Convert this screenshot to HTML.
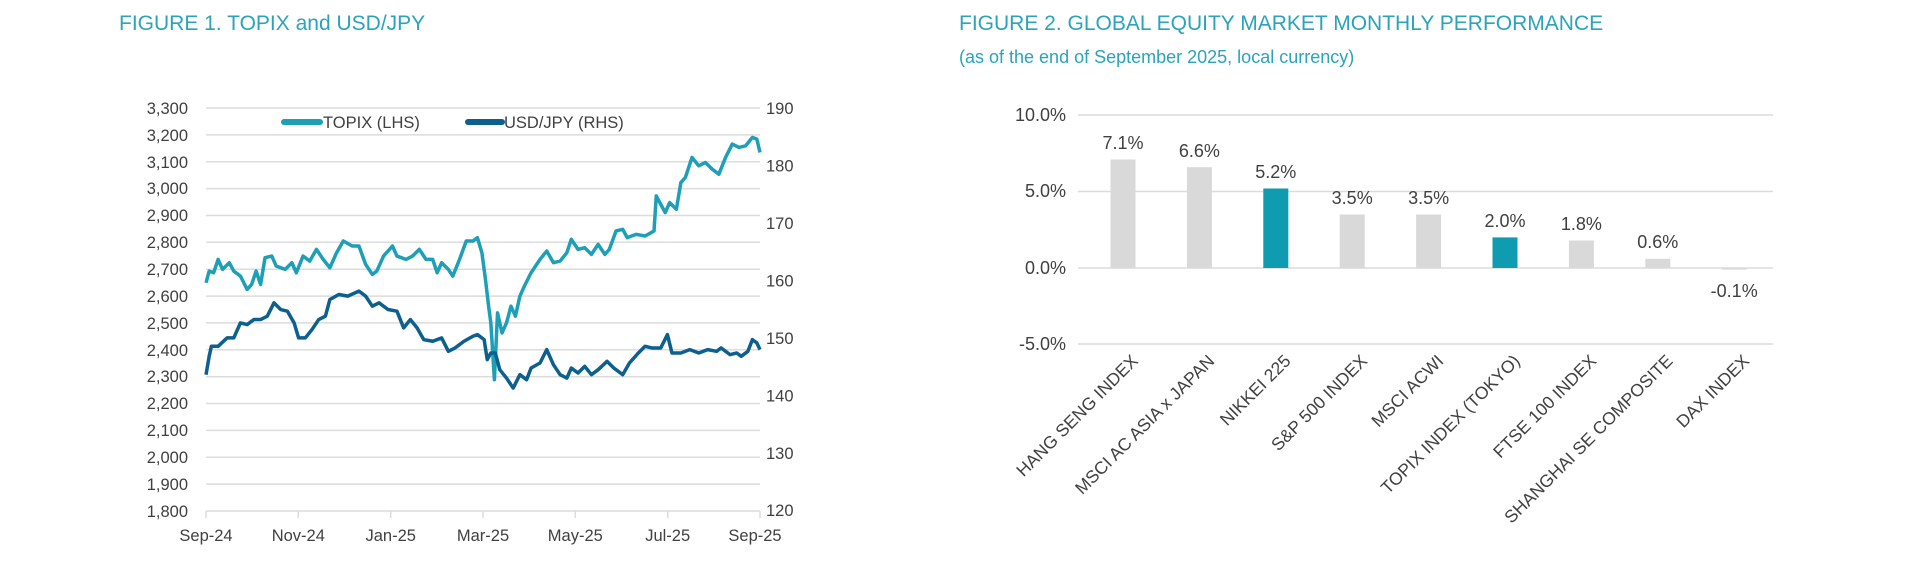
<!DOCTYPE html>
<html><head><meta charset="utf-8"><style>
body{margin:0;background:#fff;}
svg{display:block;font-family:"Liberation Sans",sans-serif;}
</style></head><body>
<svg width="1920" height="583" viewBox="0 0 1920 583" xmlns="http://www.w3.org/2000/svg">
<rect width="1920" height="583" fill="#fff"/>
<text x="119" y="30" font-size="21" fill="#2aa3bb">FIGURE 1. TOPIX and USD/JPY</text>
<text x="959" y="30" font-size="21" fill="#2aa3bb">FIGURE 2. GLOBAL EQUITY MARKET MONTHLY PERFORMANCE</text>
<text x="959" y="63" font-size="18" fill="#2aa3bb">(as of the end of September 2025, local currency)</text>

<g stroke="#dcdcdc" stroke-width="1.5">
<line x1="206" x2="760" y1="108" y2="108"/><line x1="206" x2="760" y1="134.9" y2="134.9"/><line x1="206" x2="760" y1="161.7" y2="161.7"/><line x1="206" x2="760" y1="188.6" y2="188.6"/><line x1="206" x2="760" y1="215.5" y2="215.5"/><line x1="206" x2="760" y1="242.3" y2="242.3"/><line x1="206" x2="760" y1="269.2" y2="269.2"/><line x1="206" x2="760" y1="296.1" y2="296.1"/><line x1="206" x2="760" y1="322.9" y2="322.9"/><line x1="206" x2="760" y1="349.8" y2="349.8"/><line x1="206" x2="760" y1="376.7" y2="376.7"/><line x1="206" x2="760" y1="403.5" y2="403.5"/><line x1="206" x2="760" y1="430.4" y2="430.4"/><line x1="206" x2="760" y1="457.3" y2="457.3"/><line x1="206" x2="760" y1="484.1" y2="484.1"/>
<line x1="206" x2="760" y1="511" y2="511"/>
<line x1="206" x2="206" y1="511" y2="518"/><line x1="298.3" x2="298.3" y1="511" y2="518"/><line x1="390.7" x2="390.7" y1="511" y2="518"/><line x1="483" x2="483" y1="511" y2="518"/><line x1="575.3" x2="575.3" y1="511" y2="518"/><line x1="667.7" x2="667.7" y1="511" y2="518"/><line x1="760" x2="760" y1="511" y2="518"/>
</g>
<g font-size="16.5" fill="#404040" text-anchor="end">
<text x="188" y="114">3,300</text><text x="188" y="141">3,200</text><text x="188" y="168">3,100</text><text x="188" y="194">3,000</text><text x="188" y="221">2,900</text><text x="188" y="248">2,800</text><text x="188" y="275">2,700</text><text x="188" y="302">2,600</text><text x="188" y="329">2,500</text><text x="188" y="356">2,400</text><text x="188" y="382">2,300</text><text x="188" y="409">2,200</text><text x="188" y="436">2,100</text><text x="188" y="463">2,000</text><text x="188" y="490">1,900</text><text x="188" y="517">1,800</text>
</g>
<g font-size="16.5" fill="#404040">
<text x="766" y="114">190</text><text x="766" y="171.6">180</text><text x="766" y="229">170</text><text x="766" y="286.5">160</text><text x="766" y="344">150</text><text x="766" y="401.4">140</text><text x="766" y="458.9">130</text><text x="766" y="516">120</text>
</g>
<g font-size="16.5" fill="#404040" text-anchor="middle">
<text x="206" y="541">Sep-24</text><text x="298.3" y="541">Nov-24</text><text x="390.7" y="541">Jan-25</text><text x="483" y="541">Mar-25</text><text x="575.3" y="541">May-25</text><text x="667.7" y="541">Jul-25</text><text x="755" y="541">Sep-25</text>
</g>
<g transform="translate(79.5,88.95) scale(0.4471,0.3342)" fill="none" stroke-linejoin="round">
<polyline vector-effect="non-scaling-stroke" stroke="#1d9fb7" stroke-width="3.5" points="283,580 290,545 300,550 310,510 320,540 335,520 345,545 360,560 375,600 385,585 395,545 405,585 415,505 430,500 440,530 460,540 475,520 485,550 500,500 515,515 530,480 545,510 560,535 575,490 590,455 610,470 625,470 640,525 655,555 665,545 680,500 700,470 710,500 730,510 745,500 760,480 775,510 790,510 800,550 810,520 825,540 835,560 850,510 865,455 880,455 890,445 900,490 908,570 915,650 920,700 928,870 935,670 945,730 955,700 965,650 975,680 985,620 995,590 1010,550 1030,510 1045,485 1060,520 1075,515 1090,490 1100,450 1115,480 1130,475 1145,495 1160,465 1175,495 1185,480 1200,425 1215,420 1225,445 1245,435 1265,440 1285,425 1290,320 1300,345 1310,370 1320,340 1335,360 1345,280 1355,265 1370,205 1385,230 1400,220 1415,240 1430,255 1445,205 1460,165 1475,175 1490,170 1505,145 1515,150 1522,190"/>
<polyline vector-effect="non-scaling-stroke" stroke="#0d5f8e" stroke-width="3.5" points="283,855 290,800 295,770 310,770 330,745 345,745 360,700 375,705 390,690 405,690 420,680 435,640 450,660 465,665 480,700 490,745 505,745 520,720 535,690 550,680 560,630 580,615 600,620 625,605 640,620 655,650 670,640 690,660 710,665 725,715 740,690 755,715 770,750 790,755 810,745 825,785 840,775 860,755 880,740 890,735 905,750 912,810 920,790 930,790 940,840 955,865 970,895 985,855 1000,870 1010,835 1030,820 1045,780 1060,825 1075,855 1090,865 1100,835 1115,850 1130,830 1145,855 1160,840 1180,815 1195,835 1215,855 1230,820 1250,790 1265,770 1280,775 1300,775 1315,735 1325,790 1345,790 1365,780 1385,790 1405,780 1425,785 1435,775 1455,795 1470,790 1480,800 1495,785 1505,750 1515,760 1522,780"/>
</g>
<line x1="284" x2="320" y1="122" y2="122" stroke="#1d9fb7" stroke-width="6" stroke-linecap="round"/>
<text x="323" y="128" font-size="16.5" fill="#404040">TOPIX (LHS)</text>
<line x1="468" x2="502" y1="122" y2="122" stroke="#0d5f8e" stroke-width="6" stroke-linecap="round"/>
<text x="504" y="128" font-size="16.5" fill="#404040">USD/JPY (RHS)</text>

<g stroke="#dcdcdc" stroke-width="1.5">
<line x1="1078" x2="1773" y1="115" y2="115"/><line x1="1078" x2="1773" y1="191.5" y2="191.5"/><line x1="1078" x2="1773" y1="268" y2="268"/><line x1="1078" x2="1773" y1="344" y2="344"/>
</g>
<g font-size="18" fill="#404040" text-anchor="end">
<text x="1066" y="121">10.0%</text><text x="1066" y="197">5.0%</text><text x="1066" y="274">0.0%</text><text x="1066" y="350">-5.0%</text>
</g>
<g>
<rect x="1110.5" y="159.5" width="25" height="108.5" fill="#d9d9d9"/>
<rect x="1186.9" y="167.2" width="25" height="100.8" fill="#d9d9d9"/>
<rect x="1263.3" y="188.5" width="25" height="79.5" fill="#0f9bb0"/>
<rect x="1339.7" y="214.5" width="25" height="53.5" fill="#d9d9d9"/>
<rect x="1416.1" y="214.5" width="25" height="53.5" fill="#d9d9d9"/>
<rect x="1492.5" y="237.4" width="25" height="30.6" fill="#0f9bb0"/>
<rect x="1568.9" y="240.5" width="25" height="27.5" fill="#d9d9d9"/>
<rect x="1645.3" y="258.8" width="25" height="9.2" fill="#d9d9d9"/>
<rect x="1721.7" y="268" width="25" height="1.6" fill="#d9d9d9"/>
</g>
<g font-size="18" fill="#404040" text-anchor="middle">
<text x="1123" y="149">7.1%</text><text x="1199.4" y="157">6.6%</text><text x="1275.8" y="178">5.2%</text><text x="1352.2" y="204">3.5%</text><text x="1428.6" y="204">3.5%</text><text x="1505" y="227">2.0%</text><text x="1581.4" y="230">1.8%</text><text x="1657.8" y="248">0.6%</text><text x="1734.2" y="297">-0.1%</text>
</g>
<g font-size="17.5" fill="#404040" text-anchor="end">
<text transform="translate(1139,362) rotate(-45)">HANG SENG INDEX</text>
<text transform="translate(1215.4,362) rotate(-45)">MSCI AC ASIA x JAPAN</text>
<text transform="translate(1291.8,362) rotate(-45)">NIKKEI 225</text>
<text transform="translate(1368.2,362) rotate(-45)">S&amp;P 500 INDEX</text>
<text transform="translate(1444.6,362) rotate(-45)">MSCI ACWI</text>
<text transform="translate(1521,362) rotate(-45)">TOPIX INDEX (TOKYO)</text>
<text transform="translate(1597.4,362) rotate(-45)">FTSE 100 INDEX</text>
<text transform="translate(1673.8,362) rotate(-45)">SHANGHAI SE COMPOSITE</text>
<text transform="translate(1750.2,362) rotate(-45)">DAX INDEX</text>
</g>
</svg>
</body></html>
